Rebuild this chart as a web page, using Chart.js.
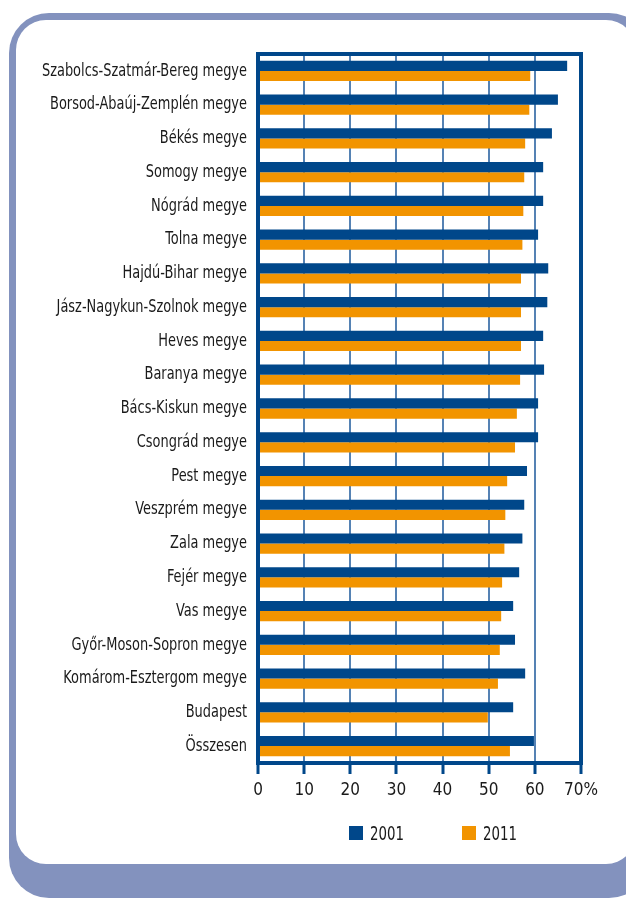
<!DOCTYPE html>
<html lang="hu">
<head>
    <meta charset="UTF-8">
    <title>Megyék 2001 / 2011</title>
    <script src="https://cdn.jsdelivr.net/npm/chart.js@4.4.0/dist/chart.umd.min.js"></script>
    <style>
        body {
            margin: 0;
            padding: 0;
            background: #fff;
        }

        .page {
            position: relative;
            width: 626px;
            height: 900px;
            overflow: hidden;
            font-family: 'DejaVu Sans Condensed', 'Liberation Sans Narrow', sans-serif;
        }

        /* blue-grey frame with the white card on top of it */
        .frame {
            position: absolute;
            left: 9px;
            top: 13px;
            width: 640px;
            height: 885px;
            background: #8392be;
            border-radius: 40px;
        }

        .card {
            position: absolute;
            left: 16px;
            top: 20px;
            width: 620px;
            height: 844px;
            background: #fff;
            border-radius: 30px;
        }

        canvas {
            position: absolute;
            left: 0;
            top: 0;
        }

        .legend {
            position: absolute;
            left: 349px;
            top: 822px;
            display: flex;
            align-items: center;
        }

        .legend-item {
            display: flex;
            align-items: center;
            width: 113px;
            height: 22px;
        }

        .legend-box {
            width: 14px;
            height: 14px;
            margin-right: 7px;
        }

        .legend-text {
            font-size: 19px;
            color: #1a1a1a;
            transform: scaleX(0.78);
            transform-origin: left center;
        }
    </style>
</head>
<body>
    <div class="page">
        <div class="frame"></div>
        <div class="card"></div>
        <canvas id="countyChart" width="626" height="900"></canvas>
        <div class="legend" id="legend"></div>
    </div>

    <script>
        const counties = [
            'Szabolcs-Szatmár-Bereg megye',
            'Borsod-Abaúj-Zemplén megye',
            'Békés megye',
            'Somogy megye',
            'Nógrád megye',
            'Tolna megye',
            'Hajdú-Bihar megye',
            'Jász-Nagykun-Szolnok megye',
            'Heves megye',
            'Baranya megye',
            'Bács-Kiskun megye',
            'Csongrád megye',
            'Pest megye',
            'Veszprém megye',
            'Zala megye',
            'Fejér megye',
            'Vas megye',
            'Győr-Moson-Sopron megye',
            'Komárom-Esztergom megye',
            'Budapest',
            'Összesen'
        ];

        const values2001 = [67.0, 65.0, 63.7, 61.8, 61.8, 60.7, 62.9, 62.7, 61.8, 62.0, 60.7,
                            60.7, 58.3, 57.7, 57.3, 56.6, 55.3, 55.7, 57.9, 55.3, 59.8];
        const values2011 = [59.0, 58.8, 57.9, 57.7, 57.5, 57.3, 57.0, 57.0, 57.0, 56.8, 56.1,
                            55.7, 54.0, 53.6, 53.4, 52.9, 52.7, 52.4, 52.0, 49.8, 54.6];

        const xTickLabels = ['0', '10', '20', '30', '40', '50', '60', '70%'];

        const DARK_BLUE = '#00478a';
        const ORANGE = '#f29400';
        const FONT = "'DejaVu Sans Condensed', 'Liberation Sans Narrow', sans-serif";

        // box around the plot area
        const plotFrame = {
            id: 'plotFrame',
            afterDatasetsDraw(chart) {
                const { ctx, chartArea: a } = chart;
                ctx.save();
                ctx.strokeStyle = DARK_BLUE;
                ctx.lineWidth = 4;
                ctx.strokeRect(a.left, a.top, a.right - a.left, a.bottom - a.top);
                ctx.restore();
            }
        };

        // squeeze the county names horizontally, anchored at their right edge
        const narrowLabels = {
            id: 'narrowLabels',
            beforeDraw(chart) {
                const y = chart.scales.y;
                if (y._narrowed) return;
                const drawLabels = y.drawLabels;
                y._computeLabelArea = () => undefined; // no clipping, the names are squeezed anyway
                y.drawLabels = function (area) {
                    const c = this.ctx;
                    const ax = this.right - this.options.ticks.padding;
                    c.save();
                    c.translate(ax, 0);
                    c.scale(0.8, 1);
                    c.translate(-ax, 0);
                    drawLabels.call(this, area);
                    c.restore();
                };
                y._narrowed = true;
            }
        };

        const ctx = document.getElementById('countyChart').getContext('2d');
        const chart = new Chart(ctx, {
            type: 'bar',
            data: {
                labels: counties,
                datasets: [
                    {
                        label: '2001',
                        data: values2001,
                        backgroundColor: DARK_BLUE,
                        borderWidth: 0
                    },
                    {
                        label: '2011',
                        data: values2011,
                        backgroundColor: ORANGE,
                        borderWidth: 0
                    }
                ]
            },
            options: {
                indexAxis: 'y',
                responsive: false,
                animation: false,
                devicePixelRatio: 1,
                categoryPercentage: 0.6,
                barPercentage: 1.0,
                layout: {
                    padding: { left: 18, right: 45, top: 54, bottom: 87 }
                },
                scales: {
                    x: {
                        min: 0,
                        max: 70,
                        border: { display: false },
                        grid: {
                            color: '#5582b4',
                            lineWidth: 2,
                            drawTicks: true,
                            tickLength: 11,
                            tickColor: DARK_BLUE,
                            tickWidth: 3
                        },
                        ticks: {
                            stepSize: 10,
                            padding: 6,
                            color: '#1a1a1a',
                            font: { family: FONT, size: 17 },
                            callback: (value, i) => xTickLabels[i]
                        },
                        afterFit(scale) { scale.height = 50; }
                    },
                    y: {
                        border: { display: false },
                        grid: { display: false, drawTicks: false },
                        ticks: {
                            padding: 11,
                            color: '#1a1a1a',
                            font: { family: FONT, size: 18 }
                        },
                        afterFit(scale) { scale.width = 240; }
                    }
                },
                plugins: {
                    legend: { display: false },
                    tooltip: { enabled: false }
                }
            },
            plugins: [plotFrame, narrowLabels]
        });

        // html legend under the axis
        const legendEl = document.getElementById('legend');
        chart.data.datasets.forEach(ds => {
            const item = document.createElement('div');
            item.className = 'legend-item';
            item.innerHTML = `<span class="legend-box" style="background:${ds.backgroundColor}"></span>` +
                             `<span class="legend-text">${ds.label}</span>`;
            legendEl.appendChild(item);
        });
    </script>
</body>
</html>
